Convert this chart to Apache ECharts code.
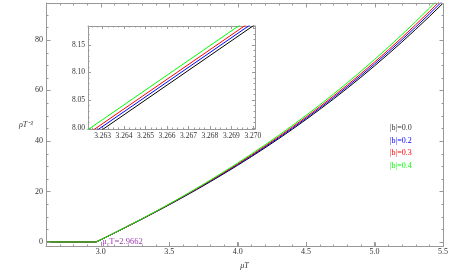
<!DOCTYPE html>
<html>
<head>
<meta charset="utf-8">
<script src="https://cdn.jsdelivr.net/npm/echarts@6/dist/echarts.min.js"></script>
<style>html,body{margin:0;padding:0;background:#fff}#c{width:468px;height:275px}</style>
</head>
<body>
<div id="c"></div>
<script>
// ---- data ----
var muT = [2.6, 2.9662, 3.0, 3.1, 3.2, 3.3, 3.4, 3.5, 3.6, 3.7, 3.8, 3.9, 4.0, 4.1, 4.2, 4.3, 4.4, 4.5, 4.6, 4.7, 4.8, 4.9, 5.0, 5.1, 5.2, 5.3, 5.4, 5.5];
var rho_b00 = [0, 0, 0.86, 3.55, 6.27, 9.03, 11.85, 14.73, 17.69, 20.72, 23.84, 27.05, 30.35, 33.76, 37.27, 40.89, 44.63, 48.49, 52.47, 56.58, 60.82, 65.19, 69.71, 74.37, 79.17, 84.13, 89.23, 94.50];
var rho_b02 = [0, 0, 0.86, 3.56, 6.29, 9.08, 11.92, 14.82, 17.81, 20.88, 24.03, 27.28, 30.62, 34.07, 37.62, 41.28, 45.07, 48.98, 53.01, 57.17, 61.46, 65.89, 70.46, 75.18, 80.04, 85.06, 90.22, 95.55];
var rho_b03 = [0, 0, 0.86, 3.57, 6.32, 9.12, 11.98, 14.92, 17.94, 21.03, 24.22, 27.51, 30.88, 34.37, 37.97, 41.68, 45.51, 49.47, 53.54, 57.76, 62.10, 66.58, 71.21, 75.98, 80.90, 85.98, 91.20, 96.60];
var rho_b04 = [0, 0, 0.86, 3.58, 6.35, 9.18, 12.07, 15.04, 18.10, 21.24, 24.47, 27.81, 31.24, 34.78, 38.43, 42.20, 46.10, 50.12, 54.26, 58.54, 62.96, 67.51, 72.21, 77.06, 82.06, 87.22, 92.52, 98.00];

// inset (zoomed) data
var insetMuT = [3.2620, 3.2705];
var inset_b00 = [7.9704, 8.1973];
var inset_b02 = [7.9759, 8.2028];
var inset_b03 = [7.9810, 8.2079];
var inset_b04 = [7.9883, 8.2152];

// tick labels
var xTicks = [3.0, 3.5, 4.0, 4.5, 5.0, 5.5];
var yTicks = [0, 20, 40, 60, 80];
var insetXTicks = [3.263, 3.264, 3.265, 3.266, 3.267, 3.268, 3.269, 3.270];
var insetYTicks = [8.00, 8.05, 8.10, 8.15];

var legendLabels = ['|b|=0.0', '|b|=0.2', '|b|=0.3', '|b|=0.4'];
var colors = ['#000000', '#0000ff', '#ff0000', '#00ff00'];
var muCLabel = 2.9662;

function pairs(xs, ys) { return xs.map(function (x, i) { return [x, ys[i]]; }); }
function steps(a, b, s, dec) { var r = []; for (var v = a; v <= b + s * 1e-6; v += s) r.push(+v.toFixed(dec)); return r; }

var SERIF = 'Liberation Serif';
var frameColor = '#999999';
var labelColor = '#333333';

var MX = { min: 2.6, max: 5.5 }, MY = { min: -1.6, max: 94.6 };
var IX = { min: 3.26232, max: 3.2701 }, IY = { min: 7.998, max: 8.184 };

var xMinor = steps(2.7, 5.4, 0.1, 2);
var yMinor = steps(5, 90, 5, 0);
var inXMinor = steps(3.26250, 3.27000, 0.00025, 5);
var inYMinor = steps(8.00, 8.18, 0.01, 2);

function ax(o) {
  return {
    type: 'value', gridIndex: o.grid, position: o.pos, min: o.min, max: o.max,
    name: o.name || '', nameLocation: 'middle', nameGap: o.nameGap || 15,
    nameTextStyle: { fontFamily: SERIF, fontStyle: 'italic', fontSize: 8, color: labelColor },
    axisLine: { show: o.line !== false, onZero: false, lineStyle: { color: frameColor, width: 1 } },
    axisTick: { show: true, inside: true, length: o.tick, customValues: o.ticks, lineStyle: { color: frameColor } },
    splitLine: { show: false },
    axisLabel: o.dec != null ? { show: true, color: labelColor, fontFamily: SERIF, fontSize: o.fs || 8, margin: o.margin || 3,
      customValues: o.ticks, formatter: function (v) { return (+v).toFixed(o.dec); } } : { show: false }
  };
}

var xAxes = [
  ax({ grid: 0, pos: 'bottom', min: MX.min, max: MX.max, ticks: xTicks, tick: 4, dec: 1, margin: 2, name: 'μT', nameGap: 16 }),
  ax({ grid: 1, pos: 'bottom', min: IX.min, max: IX.max, ticks: insetXTicks, tick: 3, dec: 3, fs: 7.5, margin: 3 }),
  ax({ grid: 1, pos: 'top', min: IX.min, max: IX.max, ticks: insetXTicks, tick: 3 }),
  ax({ grid: 1, pos: 'bottom', min: IX.min, max: IX.max, ticks: inXMinor, tick: 1.5, line: false }),
  ax({ grid: 1, pos: 'top', min: IX.min, max: IX.max, ticks: inXMinor, tick: 1.5, line: false })
];
var yAxes = [
  ax({ grid: 0, pos: 'left', min: MY.min, max: MY.max, ticks: yTicks, tick: 4, dec: 0, margin: 3 }),
  ax({ grid: 1, pos: 'left', min: IY.min, max: IY.max, ticks: insetYTicks, tick: 3, dec: 2, fs: 7.5, margin: 3 }),
  ax({ grid: 1, pos: 'right', min: IY.min, max: IY.max, ticks: insetYTicks, tick: 3 }),
  ax({ grid: 1, pos: 'left', min: IY.min, max: IY.max, ticks: inYMinor, tick: 1.5, line: false }),
  ax({ grid: 1, pos: 'right', min: IY.min, max: IY.max, ticks: inYMinor, tick: 1.5, line: false })
];

var mainData = [rho_b00, rho_b02, rho_b03, rho_b04];
var insetData = [inset_b00, inset_b02, inset_b03, inset_b04];
var series = [];
mainData.forEach(function (d, i) {
  var s = {
    name: legendLabels[i], type: 'line', xAxisIndex: 0, yAxisIndex: 0,
    data: pairs(muT, d), showSymbol: false, symbol: 'none',
    lineStyle: { color: colors[i], width: 1 }, itemStyle: { color: colors[i] }
  };
  if (i === 3) {
    s.markPoint = {
      symbol: 'circle', symbolSize: 0,
      data: [{ coord: [muCLabel, 0],
        label: { show: true, position: 'right', distance: 6,
          formatter: '{m|μ}{s|c}{m|T=' + muCLabel.toFixed(4) + '}',
          rich: { m: { fontFamily: SERIF, fontSize: 8.5, color: '#a040b0' },
                  s: { fontFamily: SERIF, fontSize: 6, color: '#a040b0', padding: [4, 0, 0, 0] } } } }]
    };
  }
  series.push(s);
});
insetData.forEach(function (d, i) {
  series.push({
    name: legendLabels[i] + ' (inset)', type: 'line', xAxisIndex: 1, yAxisIndex: 1,
    data: pairs(insetMuT, d), showSymbol: false, symbol: 'none',
    lineStyle: { color: colors[i], width: 1 }, itemStyle: { color: colors[i] }
  });
});

var graphics = legendLabels.map(function (t, i) {
  return { type: 'text', left: 390, top: 124 + i * 12.7,
    style: { text: t, fill: i === 0 ? '#333333' : colors[i], font: '8px "Liberation Serif"' } };
});
graphics.push({ type: 'text', left: 19, top: 121,
  style: { text: 'ρT⁻³', fill: labelColor, font: 'italic 8px "Liberation Serif"' } });

var chart = echarts.init(document.getElementById('c'));
chart.setOption({
  animation: false,
  grid: [
    { left: 46, right: 25, top: 3, bottom: 28 },
    { left: 88, right: 213, top: 26, bottom: 146 }
  ],
  xAxis: xAxes,
  yAxis: yAxes,
  series: series,
  graphic: graphics
});

// Main frame with inward ticks on all four sides, placed through the main axes' scales
function px(x, y) { return chart.convertToPixel({ xAxisIndex: 0, yAxisIndex: 0 }, [x, y]); }
var tl = px(MX.min, MY.max), br = px(MX.max, MY.min);
var L = Math.round(tl[0]) + 0.5, T = Math.round(tl[1]) + 0.5, R = Math.round(br[0]) + 0.5, B = Math.round(br[1]) + 0.5;
var frameEls = [];
function seg(x1, y1, x2, y2) {
  frameEls.push({ type: 'line', z: 100, silent: true,
    shape: { x1: x1, y1: y1, x2: x2, y2: y2 }, style: { stroke: frameColor, lineWidth: 1 } });
}
seg(L, T, R, T); seg(L, B, R, B); seg(L, T, L, B); seg(R, T, R, B);
function xTick(v, len) { var p = Math.round(px(v, 0)[0]) + 0.5; seg(p, B, p, B - len); seg(p, T, p, T + len); }
function yTick(v, len) { var p = Math.round(px(MX.min, v)[1]) + 0.5; seg(L, p, L + len, p); seg(R, p, R - len, p); }
xTicks.forEach(function (v) { xTick(v, 4); });
xMinor.forEach(function (v) { xTick(v, 2); });
yTicks.forEach(function (v) { yTick(v, 4); });
yMinor.forEach(function (v) { yTick(v, 2); });
chart.setOption({ graphic: graphics.concat(frameEls) });
</script>
</body>
</html>
